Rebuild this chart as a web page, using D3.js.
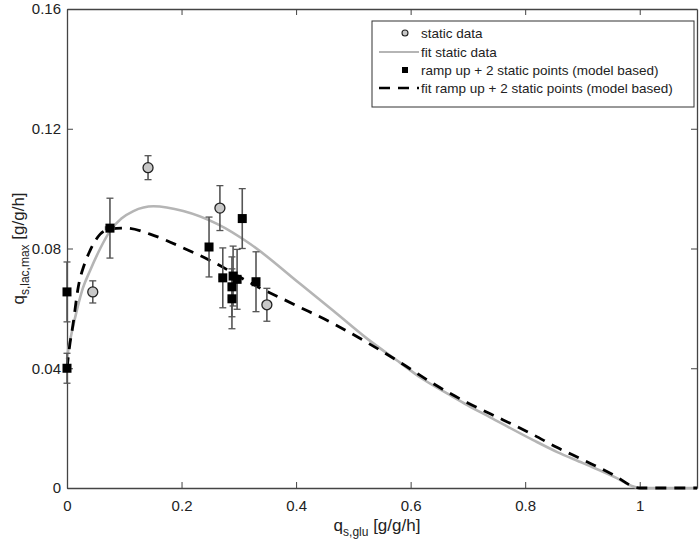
<!DOCTYPE html>
<html><head><meta charset="utf-8">
<script src="https://cdn.jsdelivr.net/npm/d3@7"></script>
<style>body{margin:0;background:#fff}svg{display:block}text{font-family:"Liberation Sans",Arial,sans-serif}</style>
</head><body><svg id="c" width="700" height="547"></svg>
<script>
// Static data (grey circles)
const staticX = [0.045, 0.1415, 0.267, 0.349];
const staticY = [0.0655, 0.107, 0.0935, 0.0612];
const staticYErr = [0.0037, 0.004, 0.0075, 0.0055];
// Ramp up + 2 static points (black squares)
const rampX = [0, 0, 0.075, 0.248, 0.306, 0.272, 0.290, 0.297, 0.288, 0.288, 0.330];
const rampY = [0.0655, 0.040, 0.0868, 0.0805, 0.0900, 0.0702, 0.0708, 0.0697, 0.0672, 0.0632, 0.0689];
const rampYErr = [0.010, 0.005, 0.010, 0.010, 0.010, 0.010, 0.010, 0.010, 0.010, 0.010, 0.010];
const rampXErr = [0.006, 0.006, 0.008, 0.006, 0.006, 0.006, 0.006, 0.006, 0.006, 0.006, 0.006];
// Fit curves
const fitStaticX = [0, 0.003, 0.009, 0.018, 0.028, 0.040, 0.058, 0.075, 0.095, 0.116, 0.151, 0.203, 0.262, 0.320, 0.407, 0.465, 0.524, 0.582, 0.617, 0.669, 0.699, 0.739, 0.814, 0.856, 0.901, 0.960, 0.985, 1.0, 1.1];
const fitStaticY = [0.043, 0.047, 0.0525, 0.060, 0.0669, 0.0725, 0.080, 0.0858, 0.0900, 0.0925, 0.0941, 0.0925, 0.0882, 0.0815, 0.0682, 0.0592, 0.0499, 0.0418, 0.0369, 0.0310, 0.0277, 0.0236, 0.0160, 0.0120, 0.0083, 0.0033, 0.0008, 0, 0];
const fitRampX = [0, 0.005, 0.010, 0.020, 0.030, 0.040, 0.058, 0.075, 0.105, 0.145, 0.203, 0.262, 0.320, 0.40, 0.465, 0.524, 0.582, 0.639, 0.699, 0.739, 0.814, 0.856, 0.901, 0.960, 0.985, 1.0, 1.1];
const fitRampY = [0.040, 0.048, 0.054, 0.0675, 0.0745, 0.0792, 0.0848, 0.0865, 0.0868, 0.0848, 0.0802, 0.0748, 0.0685, 0.0610, 0.0549, 0.0486, 0.0419, 0.0349, 0.0285, 0.0248, 0.0178, 0.0135, 0.0094, 0.0037, 0.0008, 0, 0];
const xTicks = [0, 0.2, 0.4, 0.6, 0.8, 1];
const yTicks = [0, 0.04, 0.08, 0.12, 0.16];
const legendLabels = ["static data", "fit static data", "ramp up + 2 static points (model based)", "fit ramp up + 2 static points (model based)"];

const svg = d3.select("#c");
const L = 67, R = 697, T = 9, B = 488;
const x = d3.scaleLinear().domain([0, 1.1]).range([L, R]);
const y = d3.scaleLinear().domain([0, 0.16]).range([B, T]);
const axisCol = "#444";

const fmtX = d => d === 0 ? "0" : (d === 1 ? "1" : d3.format(".1f")(d));
const fmtY = d => d === 0 ? "0" : d3.format(".2f")(d);

// axes
const gx = svg.append("g").attr("transform", `translate(0,${B})`)
  .call(d3.axisBottom(x).tickValues(xTicks).tickFormat(fmtX).tickSizeInner(-6).tickSizeOuter(0).tickPadding(12));
const gy = svg.append("g").attr("transform", `translate(${L},0)`)
  .call(d3.axisLeft(y).tickValues(yTicks).tickFormat(fmtY).tickSizeInner(-6).tickSizeOuter(0).tickPadding(6));
const gt = svg.append("g").attr("transform", `translate(0,${T})`)
  .call(d3.axisTop(x).tickValues(xTicks).tickFormat("").tickSizeInner(-6).tickSizeOuter(0));
const gr = svg.append("g").attr("transform", `translate(${R},0)`)
  .call(d3.axisRight(y).tickValues(yTicks).tickFormat("").tickSizeInner(-6).tickSizeOuter(0));
[gx, gy, gt, gr].forEach(g => {
  g.select(".domain").attr("stroke", axisCol).attr("stroke-width", 1.3);
  g.selectAll(".tick line").attr("stroke", axisCol).attr("stroke-width", 1);
  g.selectAll(".tick text").attr("fill", "#222").style("font-size", "15px");
});
gx.selectAll(".tick text").attr("dy", "0.71em");

// curves
const line = d3.line().x(d => x(d[0])).y(d => y(d[1])).curve(d3.curveMonotoneX);
svg.append("path").datum(fitStaticX.map((v, i) => [v, fitStaticY[i]]))
  .attr("d", line).attr("fill", "none").attr("stroke", "#b5b5b5").attr("stroke-width", 2.6);
svg.append("path").datum(fitRampX.map((v, i) => [v, fitRampY[i]]))
  .attr("d", line).attr("fill", "none").attr("stroke", "#000").attr("stroke-width", 2.8)
  .attr("stroke-dasharray", "11,8");

// error bars
const ebCol = "#555";
function vErr(g, px, py, e) {
  g.append("line").attr("x1", x(px)).attr("x2", x(px)).attr("y1", y(py - e)).attr("y2", y(py + e))
    .attr("stroke", ebCol).attr("stroke-width", 1.6);
  [py - e, py + e].forEach(v => g.append("line").attr("x1", x(px) - 3.5).attr("x2", x(px) + 3.5)
    .attr("y1", y(v)).attr("y2", y(v)).attr("stroke", ebCol).attr("stroke-width", 1.3));
}
function hErr(g, px, py, e) {
  g.append("line").attr("x1", x(px - e)).attr("x2", x(px + e)).attr("y1", y(py)).attr("y2", y(py))
    .attr("stroke", ebCol).attr("stroke-width", 1.3);
  [px - e, px + e].forEach(v => g.append("line").attr("x1", x(v)).attr("x2", x(v))
    .attr("y1", y(py) - 2).attr("y2", y(py) + 2).attr("stroke", ebCol).attr("stroke-width", 1.1));
}
const eg = svg.append("g");
rampX.forEach((v, i) => { vErr(eg, v, rampY[i], rampYErr[i]); hErr(eg, v, rampY[i], rampXErr[i]); });
staticX.forEach((v, i) => vErr(eg, v, staticY[i], staticYErr[i]));

// markers
svg.append("g").selectAll("rect").data(rampX.map((v, i) => [v, rampY[i]])).join("rect")
  .attr("x", d => x(d[0]) - 4.5).attr("y", d => y(d[1]) - 4.5).attr("width", 9).attr("height", 9)
  .attr("fill", "#000");
svg.append("g").selectAll("circle").data(staticX.map((v, i) => [v, staticY[i]])).join("circle")
  .attr("cx", d => x(d[0])).attr("cy", d => y(d[1])).attr("r", 5)
  .attr("fill", "#c8c8c8").attr("stroke", "#222").attr("stroke-width", 1.3);

// axis labels
const yl = svg.append("text").attr("transform", `translate(24,${(T + B) / 2}) rotate(-90)`)
  .attr("text-anchor", "middle").attr("fill", "#222").style("font-size", "17px");
yl.append("tspan").text("q");
yl.append("tspan").attr("dy", 5).style("font-size", "12px").text("s,lac,max");
yl.append("tspan").attr("dy", -5).text(" [g/g/h]");
const xl = svg.append("text").attr("x", 377).attr("y", 531)
  .attr("text-anchor", "middle").attr("fill", "#222").style("font-size", "17px");
xl.append("tspan").text("q");
xl.append("tspan").attr("dy", 5).style("font-size", "12px").text("s,glu");
xl.append("tspan").attr("dy", -5).text(" [g/g/h]");

// legend
const lg = svg.append("g");
lg.append("rect").attr("x", 372).attr("y", 21).attr("width", 322).attr("height", 86)
  .attr("fill", "#fff").attr("stroke", "#333").attr("stroke-width", 1);
const rows = [33, 52, 70, 88];
lg.append("circle").attr("cx", 405).attr("cy", rows[0]).attr("r", 3)
  .attr("fill", "#c8c8c8").attr("stroke", "#222").attr("stroke-width", 1.1);
lg.append("line").attr("x1", 379).attr("x2", 419).attr("y1", rows[1]).attr("y2", rows[1])
  .attr("stroke", "#b5b5b5").attr("stroke-width", 2.2);
lg.append("rect").attr("x", 402).attr("y", rows[2] - 3).attr("width", 6).attr("height", 6).attr("fill", "#000");
lg.append("line").attr("x1", 379).attr("x2", 419).attr("y1", rows[3]).attr("y2", rows[3])
  .attr("stroke", "#000").attr("stroke-width", 2.6).attr("stroke-dasharray", "11,8");
legendLabels.forEach((t, i) => lg.append("text").attr("x", 421).attr("y", rows[i]).attr("dy", "0.35em")
  .attr("fill", "#222").style("font-size", "13.5px").text(t));
</script></body></html>
